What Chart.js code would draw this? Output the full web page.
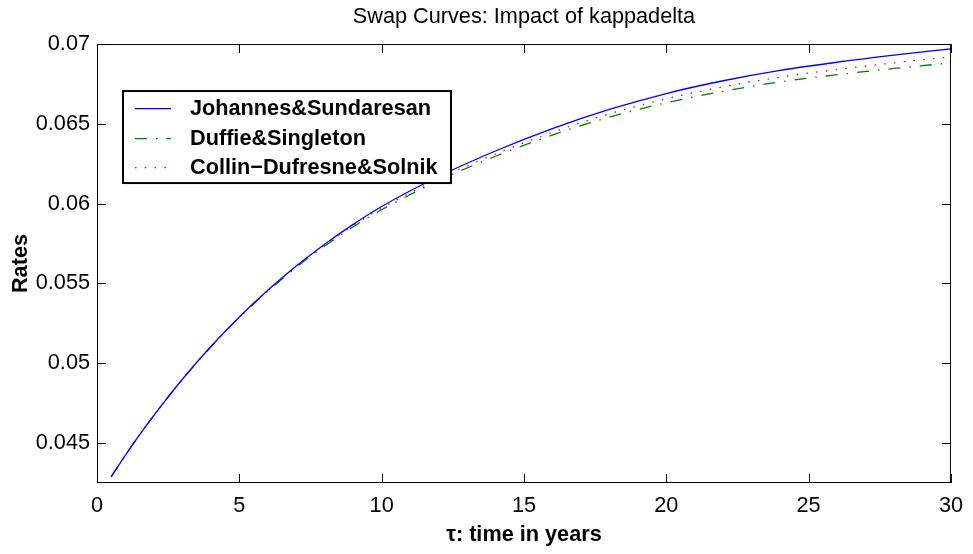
<!DOCTYPE html>
<html>
<head>
<meta charset="utf-8">
<script src="https://cdn.jsdelivr.net/npm/chart.js@4"></script>
<style>
  body { margin: 0; background: #fff; }
</style>
</head>
<body>
<canvas id="swap" width="973" height="554"></canvas>
<script>
const years = [0.5, 1, 1.5, 2, 3, 4, 5, 6, 7, 8, 9, 10, 12, 14, 16, 18, 20, 22, 24, 26, 28, 30];

const johannes = [0.04290, 0.04425, 0.04553, 0.04674, 0.04900, 0.05105, 0.05290, 0.05457, 0.05609, 0.05746, 0.05870,
    0.05982, 0.06170, 0.06330, 0.06470, 0.06590, 0.06690, 0.06770, 0.06835, 0.06886, 0.06930, 0.06970];
const duffie = [0.04290, 0.04425, 0.04553, 0.04674, 0.04899, 0.05102, 0.05286, 0.05452, 0.05601, 0.05735, 0.05855,
    0.05962, 0.06144, 0.06297, 0.06430, 0.06542, 0.06632, 0.06704, 0.06763, 0.06808, 0.06847, 0.06882];
const collin = [0.04290, 0.04425, 0.04553, 0.04674, 0.04900, 0.05105, 0.05289, 0.05455, 0.05606, 0.05741, 0.05863,
    0.05972, 0.06156, 0.06311, 0.06447, 0.06563, 0.06657, 0.06732, 0.06793, 0.06841, 0.06882, 0.06920];

const xTicks = [0, 5, 10, 15, 20, 25, 30];
const yTicks = [0.045, 0.05, 0.055, 0.06, 0.065, 0.07];

const FONT = '"Liberation Sans", Arial, Helvetica, sans-serif';
Chart.defaults.font.family = FONT;
Chart.defaults.color = '#000';

function pairs(ys) {
    return years.map((t, i) => ({ x: t, y: ys[i] }));
}

// matlab style box, inward ticks and the boxed legend
const framePlugin = {
    id: 'frame',
    afterDatasetsDraw(chart) {
        const { ctx, chartArea: a, scales: { x, y } } = chart;
        ctx.save();
        ctx.strokeStyle = '#000';
        ctx.lineWidth = 1;
        ctx.strokeRect(a.left + 0.5, a.top + 0.5, a.width - 1, a.height - 1);

        const tl = 9;
        ctx.beginPath();
        xTicks.forEach(v => {
            const px = Math.round(x.getPixelForValue(v)) + 0.5;
            ctx.moveTo(px, a.bottom); ctx.lineTo(px, a.bottom - tl);
            ctx.moveTo(px, a.top); ctx.lineTo(px, a.top + tl);
        });
        yTicks.forEach(v => {
            const py = Math.round(y.getPixelForValue(v)) + 0.5;
            ctx.moveTo(a.left, py); ctx.lineTo(a.left + tl, py);
            ctx.moveTo(a.right, py); ctx.lineTo(a.right - tl, py);
        });
        ctx.stroke();

        // legend
        const lx = a.left + 26, ly = a.top + 47, lw = 328, lh = 92;
        ctx.fillStyle = '#fff';
        ctx.fillRect(lx, ly, lw, lh);
        ctx.lineWidth = 2;
        ctx.strokeRect(lx, ly, lw, lh);
        const rows = [17, 47, 76];
        chart.data.datasets.forEach((ds, i) => {
            const ry = ly + rows[i] + 0.5;
            ctx.strokeStyle = ds.borderColor;
            ctx.lineWidth = ds.borderWidth;
            ctx.setLineDash(ds.borderDash || []);
            ctx.beginPath();
            ctx.moveTo(lx + 12, ry);
            ctx.lineTo(lx + 48, ry);
            ctx.stroke();
            ctx.setLineDash([]);
            ctx.fillStyle = '#000';
            ctx.font = 'bold 21.7px ' + FONT;
            ctx.textBaseline = 'middle';
            ctx.fillText(ds.label, lx + 67, ry);
        });
        ctx.restore();
    }
};

const data = {
    datasets: [{
        label: 'Johannes&Sundaresan',
        data: pairs(johannes),
        borderColor: '#0000ff',
        borderWidth: 1.3,
    }, {
        label: 'Duffie&Singleton',
        data: pairs(duffie),
        borderColor: '#008000',
        borderWidth: 1.3,
        borderDash: [12, 9, 1.5, 9],
    }, {
        label: 'Collin\u2212Dufresne&Solnik',
        data: pairs(collin),
        borderColor: '#ff0000',
        borderWidth: 1.3,
        borderDash: [1.5, 8.3],
    }]
};

const options = {
    responsive: false,
    animation: false,
    layout: { padding: { left: 0, right: 20, top: 0, bottom: 0 } },
    elements: {
        point: { radius: 0 },
        line: { cubicInterpolationMode: 'monotone', fill: false }
    },
    plugins: {
        legend: { display: false },
        tooltip: { enabled: false },
        title: {
            display: true,
            fullSize: false,
            text: 'Swap Curves: Impact of kappadelta',
            font: { size: 21.7, weight: 'normal' },
            padding: { top: 4, bottom: 14 }
        }
    },
    scales: {
        x: {
            type: 'linear',
            min: 0,
            max: 30,
            grid: { display: false, drawTicks: false },
            border: { display: false },
            afterBuildTicks: s => { s.ticks = xTicks.map(v => ({ value: v })); },
            afterFit: s => { s.height = 71; },
            ticks: { font: { size: 21.7 }, padding: 10, maxRotation: 0, callback: v => String(v) },
            title: {
                display: true,
                text: '\u03c4: time in years',
                font: { size: 21.7, weight: 'bold' },
                padding: { top: 0, bottom: 6 }
            }
        },
        y: {
            min: 0.0425,
            max: 0.07,
            grid: { display: false, drawTicks: false },
            border: { display: false },
            afterBuildTicks: s => { s.ticks = yTicks.map(v => ({ value: v })); },
            afterFit: s => { s.width = 97; },
            ticks: { font: { size: 21.7 }, padding: 7, callback: v => String(v) },
            title: {
                display: true,
                text: 'Rates',
                font: { size: 21.7, weight: 'bold' },
                padding: { top: 8, bottom: 0 }
            }
        }
    }
};

const swapChart = new Chart(document.getElementById('swap'), {
    type: 'line',
    data: data,
    options: options,
    plugins: [framePlugin]
});
</script>
</body>
</html>
